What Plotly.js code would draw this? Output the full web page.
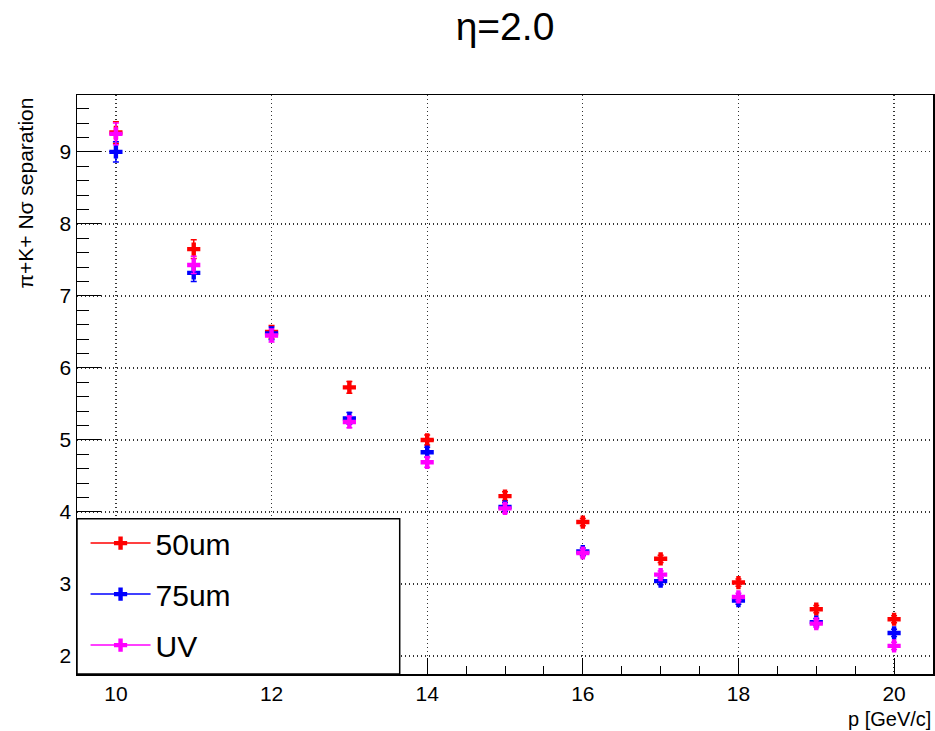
<!DOCTYPE html>
<html>
<head>
<meta charset="utf-8">
<script src="https://cdn.plot.ly/plotly-3.0.1.min.js"></script>
<style>html,body{margin:0;padding:0;background:#fff;}#chart{width:935px;height:731px;}</style>
</head>
<body>
<div id="chart"></div>
<script>
const momentum = [10, 11, 12, 13, 14, 15, 16, 17, 18, 19, 20];
const sep50um = [9.27, 7.65, 6.50, 5.73, 5.00, 4.22, 3.86, 3.35, 3.02, 2.65, 2.51];
const err50um = [0.15, 0.13, 0.09, 0.08, 0.07, 0.06, 0.05, 0.05, 0.05, 0.05, 0.05];
const sep75um = [9.00, 7.32, 6.48, 5.30, 4.83, 4.07, 3.45, 3.04, 2.77, 2.47, 2.32];
const err75um = [0.14, 0.12, 0.09, 0.08, 0.07, 0.06, 0.05, 0.05, 0.05, 0.05, 0.05];
const sepUV = [9.25, 7.43, 6.45, 5.25, 4.69, 4.05, 3.43, 3.13, 2.82, 2.45, 2.14];
const errUV = [0.15, 0.12, 0.09, 0.08, 0.07, 0.06, 0.05, 0.05, 0.05, 0.05, 0.05];
const seriesNames = ['50um', '75um', 'UV'];
const seriesColors = ['#ff0000', '#0000ff', '#ff00ff'];

const font = 'Liberation Sans, Arial, Helvetica, sans-serif';
const ys = [sep50um, sep75um, sepUV];
const es = [err50um, err75um, errUV];

const traces = [];
for (let i = 0; i < 3; i++) {
  traces.push({
    type: 'scatter', mode: 'markers', x: momentum, y: ys[i],
    showlegend: false,
    marker: {symbol: 'cross', size: 11, color: seriesColors[i], line: {width: 0}},
    error_y: {type: 'data', array: es[i], visible: true, color: seriesColors[i], thickness: 1.5, width: 3}
  });
}
for (let i = 0; i < 3; i++) {
  traces.push({
    type: 'scatter', mode: 'lines+markers', x: [null], y: [null],
    name: seriesNames[i], legendgroup: 'g' + i,
    line: {color: seriesColors[i], width: 1.5},
    marker: {symbol: 'cross', size: 11, color: seriesColors[i], line: {width: 0}}
  });
}

const layout = {
  width: 935, height: 731,
  margin: {l: 77, r: 2, t: 95, b: 57},
  paper_bgcolor: '#fff', plot_bgcolor: '#fff',
  font: {family: font, color: '#000'},
  title: {text: 'η=2.0', font: {family: font, size: 39, color: '#000'}, x: 0.5, xref: 'paper', y: 0.964, yref: 'container', yanchor: 'middle'},
  xaxis: {
    range: [9.5, 20.5], dtick: 2, tick0: 10, ticks: 'inside', ticklen: 16, tickwidth: 1, tickcolor: '#000',
    minor: {dtick: 0.5, ticks: 'inside', ticklen: 8, tickcolor: '#000', showgrid: false},
    showgrid: true, gridcolor: '#333', griddash: '1px,3px', gridwidth: 1.2,
    showline: true, mirror: true, linecolor: '#000', linewidth: 1.5,
    zeroline: false, tickfont: {family: font, size: 21, color: '#000'}
  },
  yaxis: {
    range: [1.75, 9.79], dtick: 1, tick0: 0, ticks: 'inside', ticklen: 24, tickwidth: 1, tickcolor: '#000',
    minor: {dtick: 0.2, ticks: 'inside', ticklen: 12, tickcolor: '#000', showgrid: false},
    showgrid: true, gridcolor: '#333', griddash: '1px,3px', gridwidth: 1.2,
    showline: true, mirror: true, linecolor: '#000', linewidth: 1.5,
    zeroline: false, tickfont: {family: font, size: 21, color: '#000'}
  },
  shapes: [{type: 'rect', xref: 'paper', yref: 'paper', x0: 0, x1: 0.377, y0: 0, y1: 0.268,
    fillcolor: '#fff', line: {color: '#000', width: 1.5}, layer: 'above'}],
  showlegend: true,
  legend: {x: 0.01, xanchor: 'left', y: 0.138, yanchor: 'middle', xref: 'paper', yref: 'paper',
    bgcolor: 'rgba(0,0,0,0)', borderwidth: 0, traceorder: 'grouped', tracegroupgap: 9,
    itemwidth: 60, font: {family: font, size: 30, color: '#000'}},
  annotations: [
    {text: 'π+K+ Nσ separation', textangle: -90, xref: 'paper', yref: 'paper', x: -0.0596, y: 1,
     xanchor: 'center', yanchor: 'top', showarrow: false, font: {family: font, size: 21, color: '#000'}},
    {text: 'p [GeV/c]', xref: 'paper', yref: 'paper', x: 1, y: -0.077, xanchor: 'right', yanchor: 'middle',
     showarrow: false, font: {family: font, size: 20, color: '#000'}}
  ]
};

Plotly.newPlot('chart', traces, layout, {displayModeBar: false, staticPlot: true});
</script>
</body>
</html>
